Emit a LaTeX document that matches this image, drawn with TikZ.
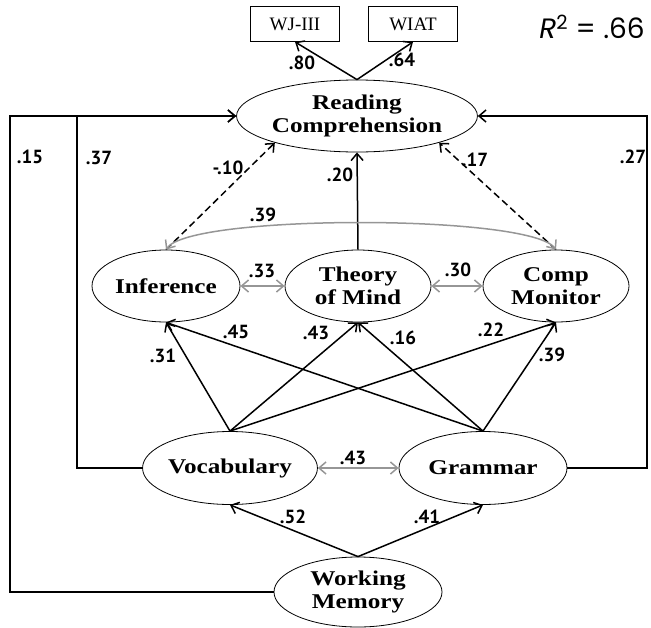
\documentclass[tikz,border=0pt]{standalone}
\usepackage{fontspec}
\setmainfont{Liberation Serif}
\newfontfamily\latentfont[FakeStretch=1.2]{Liberation Serif}
\newfontfamily\coeffont{PT Sans}
\newfontfamily\rsqfont{Poppins}
\usetikzlibrary{arrows.meta,shapes.geometric}
\definecolor{covGray}{RGB}{150,150,150}

\begin{document}
\begin{tikzpicture}[x=1pt,y=-1pt,
    latent/.style={draw, ellipse, line width=0.8pt, inner sep=0pt, align=center,
      font=\latentfont\fontsize{21}{23}\selectfont\bfseries},
    obs/.style={draw, rectangle, line width=0.8pt, minimum width=89pt, minimum height=35pt,
      inner sep=0pt, font=\fontsize{19}{21}\selectfont},
    reg/.style={-{Straight Barb[length=7pt,width=12pt]}, line width=1.5pt},
    dreg/.style={reg, dash pattern=on 7pt off 4pt},
    cov/.style={{Straight Barb[length=7pt,width=12pt]}-{Straight Barb[length=7pt,width=12pt]},
      line width=1.5pt, covGray},
    coef/.style={font=\coeffont\fontsize{19}{19}\selectfont\bfseries, inner sep=0pt}]
    \useasboundingbox (0,0) rectangle (651,627);
    % Outcome and its indicators
    \node[latent, minimum width=235pt, minimum height=72pt] (rc) at (357,116) {Reading\\Comprehension};
    \node[obs] (wj) at (295,24) {WJ-III};
    \node[obs] (wiat) at (413,24) {WIAT};
    % Mediators
    \node[latent, minimum width=148pt, minimum height=72pt] (inf) at (166,286) {Inference};
    \node[latent, minimum width=146pt, minimum height=72pt] (tom) at (358,286) {Theory\\of Mind};
    \node[latent, minimum width=146pt, minimum height=72pt] (cm) at (556,286) {Comp\\Monitor};
    % Language and memory
    \node[latent, minimum width=170pt, minimum height=73pt] (voc) at (230,468) {Vocabulary};
    \node[latent, minimum width=168pt, minimum height=73pt] (gram) at (483,468) {Grammar};
    \node[latent, minimum width=168pt, minimum height=70pt] (wm) at (358,592) {Working\\Memory};
    \coordinate (lft) at (10,116);
    \coordinate (inr) at (77,116);
    \coordinate (rgt) at (647,116);
    % Loadings
    \draw[reg] (rc.north) -- (wj.south);
    \draw[reg] (rc.north) -- (wiat.south);
    % Paths to reading comprehension
    \draw[reg] (tom.north) -- (rc.south);
    \draw[dreg] (inf.north) -- (rc.198);
    \draw[dreg] (cm.north) -- (rc.342);
    \draw[reg] (wm.west) -| (lft) -- (rc.west);
    \draw[reg] (voc.west) -| (inr) -- (rc.west);
    \draw[reg] (gram.east) -| (rgt) -- (rc.east);
    % Covariances
    \draw[cov] (inf.north) .. controls (190,214) and (530,214) .. (cm.north);
    \draw[cov] (inf.east) -- (tom.west);
    \draw[cov] (tom.east) -- (cm.west);
    \draw[cov] (voc.east) -- (gram.west);
    % Language to mediators
    \foreach \s in {voc,gram}
      \foreach \t in {inf,tom,cm}
        \draw[reg] (\s.north) -- (\t.south);
    % Working memory
    \draw[reg] (wm.north) -- (voc.south);
    \draw[reg] (wm.north) -- (gram.south);
    % Coefficients
    \node[coef] (c80) at (302,63) {.80};
    \node[coef] (c64) at (402,60) {.64};
    \node[coef] (c15) at (30,157) {.15};
    \node[coef] (c37) at (99,158) {.37};
    \node[coef] (c27) at (633,157) {.27};
    \node[coef] (c10) at (228,168) {-.10};
    \node[coef] (c20) at (340,175) {.20};
    \node[coef] (c17) at (475,160) {.17};
    \node[coef] (c39a) at (263,215) {.39};
    \node[coef] (c33) at (262,271) {.33};
    \node[coef] (c30) at (458,270) {.30};
    \node[coef] (c31) at (163,356) {.31};
    \node[coef] (c45) at (236,332) {.45};
    \node[coef] (c43a) at (316,333) {.43};
    \node[coef] (c16) at (403,338) {.16};
    \node[coef] (c22) at (491,330) {.22};
    \node[coef] (c39b) at (552,355) {.39};
    \node[coef] (c43b) at (353,458) {.43};
    \node[coef] (c52) at (293,517) {.52};
    \node[coef] (c41) at (427,517) {.41};
    \node[inner sep=0pt, font=\rsqfont\fontsize{28}{28}\selectfont] (rsq) at (592,27) {\textit{R}\textsuperscript{2} = .66};
\end{tikzpicture}
\end{document}
